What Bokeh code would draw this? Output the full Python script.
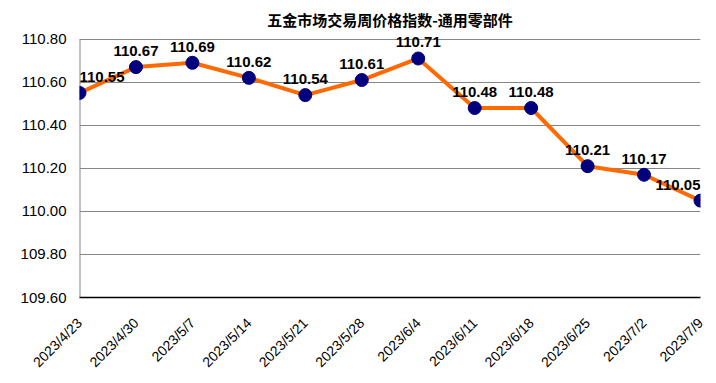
from bokeh.plotting import figure
from bokeh.models import Range1d, FixedTicker, NumeralTickFormatter, ColumnDataSource, LabelSet
from bokeh.core.properties import value
from bokeh.embed import file_html
from bokeh.resources import INLINE
import math

title = "五金市场交易周价格指数-通用零部件"
dates = ["2023/4/23", "2023/4/30", "2023/5/7", "2023/5/14", "2023/5/21", "2023/5/28",
         "2023/6/4", "2023/6/11", "2023/6/18", "2023/6/25", "2023/7/2", "2023/7/9"]
values = [110.55, 110.67, 110.69, 110.62, 110.54, 110.61,
          110.71, 110.48, 110.48, 110.21, 110.17, 110.05]
y_ticks = [109.60, 109.80, 110.00, 110.20, 110.40, 110.60, 110.80]

n = len(dates)
xs = list(range(n))
aligns = ["left" if i == 0 else ("right" if i == n - 1 else "center") for i in xs]
src = ColumnDataSource(dict(x=xs, y=values, lab=[f"{v:.2f}" for v in values], al=aligns))

# a little headroom above the top gridline so the data labels are not clipped
y_top = y_ticks[-1] + 0.04

p = figure(width=708, height=378, output_backend="svg", toolbar_location=None,
           x_range=Range1d(0, n - 1), y_range=Range1d(y_ticks[0], y_top),
           min_border_left=79, min_border_right=8, min_border_top=30, min_border_bottom=80)

p.title.text = title
p.title.align = "center"
p.title.offset = 9
p.title.standoff = 2
p.title.text_font = "Noto Sans CJK SC"
p.title.text_font_size = "15px"
p.title.text_font_style = "bold"
p.title.text_color = "black"

p.outline_line_color = None
p.background_fill_color = "white"
p.border_fill_color = "white"

p.xgrid.grid_line_color = None
p.ygrid.grid_line_color = "#868686"
p.ygrid.ticker = FixedTicker(ticks=y_ticks)

p.yaxis.ticker = FixedTicker(ticks=y_ticks)
p.yaxis.formatter = NumeralTickFormatter(format="0.00")
p.yaxis.major_tick_line_color = None
p.yaxis.minor_tick_line_color = None
p.yaxis.axis_line_color = None
p.yaxis.major_label_text_font = "Liberation Sans"
p.yaxis.major_label_text_font_size = "15px"
p.yaxis.major_label_text_color = "black"
p.yaxis.major_label_standoff = 7

# left value-axis line spanning only the tick range
p.segment(x0=[xs[0]], y0=[y_ticks[0]], x1=[xs[0]], y1=[y_ticks[-1]],
          line_color="#868686", line_width=2)

p.xaxis.ticker = FixedTicker(ticks=xs)
p.xaxis.major_label_overrides = {i: d for i, d in enumerate(dates)}
p.xaxis.major_label_orientation = math.pi / 4
p.xaxis.major_tick_line_color = None
p.xaxis.minor_tick_line_color = None
p.xaxis.axis_line_color = "black"
p.xaxis.axis_line_width = 1.5
p.xaxis.major_label_text_font = "Liberation Sans"
p.xaxis.major_label_text_font_size = "14px"
p.xaxis.major_label_text_color = "black"
p.xaxis.major_label_standoff = 17

p.line("x", "y", source=src, line_color="#FF6A00", line_width=4)
p.scatter("x", "y", source=src, size=13, fill_color="#00007F", line_color="#00007F")
labels = LabelSet(x="x", y="y", text="lab", source=src, text_align="al",
                  text_baseline="bottom", x_offset=0, y_offset=11,
                  text_font=value("Liberation Sans"), text_font_size="15px",
                  text_font_style="bold", text_color="black")
p.add_layout(labels)

open("out.html", "w").write(file_html(p, INLINE))
